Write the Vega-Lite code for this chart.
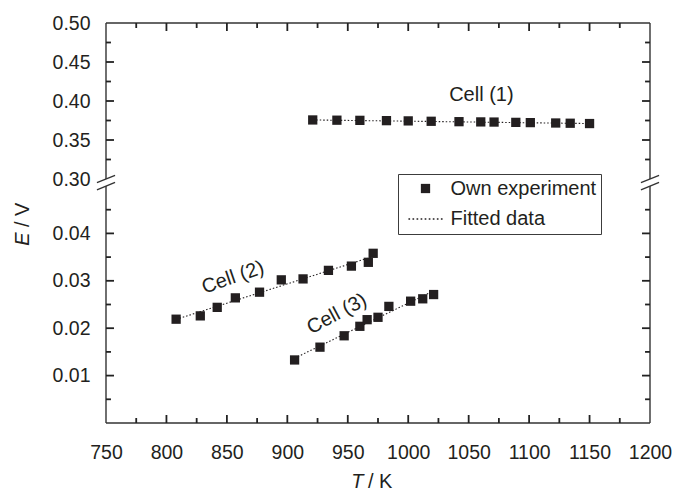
{
  "$schema": "https://vega.github.io/schema/vega-lite/v6.json",
  "width": 544,
  "height": 400,
  "autosize": "none",
  "padding": {"left": 106, "top": 23, "right": 23, "bottom": 69},
  "background": "white",
  "config": {"view": {"stroke": null}, "font": "Liberation Sans"},
  "datasets": {
    "points": [
      {"cell": "1", "T": 921, "E": 0.3757, "kind": "Own experiment"},
      {"cell": "1", "T": 941, "E": 0.3754, "kind": "Own experiment"},
      {"cell": "1", "T": 960, "E": 0.3752, "kind": "Own experiment"},
      {"cell": "1", "T": 982, "E": 0.3748, "kind": "Own experiment"},
      {"cell": "1", "T": 1000, "E": 0.3745, "kind": "Own experiment"},
      {"cell": "1", "T": 1019, "E": 0.3740, "kind": "Own experiment"},
      {"cell": "1", "T": 1042, "E": 0.3735, "kind": "Own experiment"},
      {"cell": "1", "T": 1060, "E": 0.3732, "kind": "Own experiment"},
      {"cell": "1", "T": 1071, "E": 0.3730, "kind": "Own experiment"},
      {"cell": "1", "T": 1089, "E": 0.3726, "kind": "Own experiment"},
      {"cell": "1", "T": 1101, "E": 0.3723, "kind": "Own experiment"},
      {"cell": "1", "T": 1122, "E": 0.3718, "kind": "Own experiment"},
      {"cell": "1", "T": 1134, "E": 0.3715, "kind": "Own experiment"},
      {"cell": "1", "T": 1150, "E": 0.3711, "kind": "Own experiment"},
      {"cell": "2", "T": 808, "E": 0.0219, "kind": "Own experiment"},
      {"cell": "2", "T": 828, "E": 0.0226, "kind": "Own experiment"},
      {"cell": "2", "T": 842, "E": 0.0244, "kind": "Own experiment"},
      {"cell": "2", "T": 857, "E": 0.0264, "kind": "Own experiment"},
      {"cell": "2", "T": 877, "E": 0.0276, "kind": "Own experiment"},
      {"cell": "2", "T": 895, "E": 0.0302, "kind": "Own experiment"},
      {"cell": "2", "T": 913, "E": 0.0304, "kind": "Own experiment"},
      {"cell": "2", "T": 934, "E": 0.0322, "kind": "Own experiment"},
      {"cell": "2", "T": 953, "E": 0.0331, "kind": "Own experiment"},
      {"cell": "2", "T": 967, "E": 0.0339, "kind": "Own experiment"},
      {"cell": "2", "T": 971, "E": 0.0358, "kind": "Own experiment"},
      {"cell": "3", "T": 906, "E": 0.0133, "kind": "Own experiment"},
      {"cell": "3", "T": 927, "E": 0.0160, "kind": "Own experiment"},
      {"cell": "3", "T": 947, "E": 0.0184, "kind": "Own experiment"},
      {"cell": "3", "T": 960, "E": 0.0204, "kind": "Own experiment"},
      {"cell": "3", "T": 966, "E": 0.0218, "kind": "Own experiment"},
      {"cell": "3", "T": 975, "E": 0.0223, "kind": "Own experiment"},
      {"cell": "3", "T": 984, "E": 0.0246, "kind": "Own experiment"},
      {"cell": "3", "T": 1002, "E": 0.0257, "kind": "Own experiment"},
      {"cell": "3", "T": 1012, "E": 0.0262, "kind": "Own experiment"},
      {"cell": "3", "T": 1021, "E": 0.0271, "kind": "Own experiment"}
    ],
    "fits": [
      {"cell": "1", "T": 921, "E": 0.3757},
      {"cell": "1", "T": 1150, "E": 0.3711},
      {"cell": "2", "T": 808, "E": 0.02186},
      {"cell": "2", "T": 971, "E": 0.03514},
      {"cell": "3", "T": 906, "E": 0.01367},
      {"cell": "3", "T": 1021, "E": 0.02788}
    ],
    "labels": [
      {"cell": "1", "label": "Cell (1)", "T": 1060.5, "E": 0.4077},
      {"cell": "2", "label": "Cell (2)", "T": 855, "E": 0.0307},
      {"cell": "3", "label": "Cell (3)", "T": 941, "E": 0.0230}
    ],
    "frame": [
      {"T": 750, "E": 0.30, "T2": 750, "E2": 0.50},
      {"T": 750, "E": 0, "T2": 750, "E2": 0.05},
      {"T": 1200, "E": 0.30, "T2": 1200, "E2": 0.50},
      {"T": 1200, "E": 0, "T2": 1200, "E2": 0.05},
      {"T": 750, "E": 0.50, "T2": 1200, "E2": 0.50},
      {"T": 750, "E": 0, "T2": 1200, "E2": 0},
      {"T": 742.5, "E": 0.1714, "T2": 757.5, "E2": 0.3046},
      {"T": 742.5, "E": 0.0492, "T2": 757.5, "E2": 0.1786},
      {"T": 1192.5, "E": 0.1714, "T2": 1207.5, "E2": 0.3046},
      {"T": 1192.5, "E": 0.0492, "T2": 1207.5, "E2": 0.1786}
    ],
    "ticks": [
      {"T": 800, "E": 0, "T2": 800, "E2": 0.00169},
      {"T": 850, "E": 0, "T2": 850, "E2": 0.00169},
      {"T": 900, "E": 0, "T2": 900, "E2": 0.00169},
      {"T": 950, "E": 0, "T2": 950, "E2": 0.00169},
      {"T": 1000, "E": 0, "T2": 1000, "E2": 0.00169},
      {"T": 1050, "E": 0, "T2": 1050, "E2": 0.00169},
      {"T": 1100, "E": 0, "T2": 1100, "E2": 0.00169},
      {"T": 1150, "E": 0, "T2": 1150, "E2": 0.00169},
      {"T": 775, "E": 0, "T2": 775, "E2": 0.00105},
      {"T": 825, "E": 0, "T2": 825, "E2": 0.00105},
      {"T": 875, "E": 0, "T2": 875, "E2": 0.00105},
      {"T": 925, "E": 0, "T2": 925, "E2": 0.00105},
      {"T": 975, "E": 0, "T2": 975, "E2": 0.00105},
      {"T": 1025, "E": 0, "T2": 1025, "E2": 0.00105},
      {"T": 1075, "E": 0, "T2": 1075, "E2": 0.00105},
      {"T": 1125, "E": 0, "T2": 1125, "E2": 0.00105},
      {"T": 1175, "E": 0, "T2": 1175, "E2": 0.00105},
      {"T": 800, "E": 0.5, "T2": 800, "E2": 0.48974},
      {"T": 850, "E": 0.5, "T2": 850, "E2": 0.48974},
      {"T": 900, "E": 0.5, "T2": 900, "E2": 0.48974},
      {"T": 950, "E": 0.5, "T2": 950, "E2": 0.48974},
      {"T": 1000, "E": 0.5, "T2": 1000, "E2": 0.48974},
      {"T": 1050, "E": 0.5, "T2": 1050, "E2": 0.48974},
      {"T": 1100, "E": 0.5, "T2": 1100, "E2": 0.48974},
      {"T": 1150, "E": 0.5, "T2": 1150, "E2": 0.48974},
      {"T": 775, "E": 0.5, "T2": 775, "E2": 0.49359},
      {"T": 825, "E": 0.5, "T2": 825, "E2": 0.49359},
      {"T": 875, "E": 0.5, "T2": 875, "E2": 0.49359},
      {"T": 925, "E": 0.5, "T2": 925, "E2": 0.49359},
      {"T": 975, "E": 0.5, "T2": 975, "E2": 0.49359},
      {"T": 1025, "E": 0.5, "T2": 1025, "E2": 0.49359},
      {"T": 1075, "E": 0.5, "T2": 1075, "E2": 0.49359},
      {"T": 1125, "E": 0.5, "T2": 1125, "E2": 0.49359},
      {"T": 1175, "E": 0.5, "T2": 1175, "E2": 0.49359},
      {"T": 750, "E": 0.01, "T2": 756.6, "E2": 0.01},
      {"T": 750, "E": 0.02, "T2": 756.6, "E2": 0.02},
      {"T": 750, "E": 0.03, "T2": 756.6, "E2": 0.03},
      {"T": 750, "E": 0.04, "T2": 756.6, "E2": 0.04},
      {"T": 750, "E": 0.35, "T2": 756.6, "E2": 0.35},
      {"T": 750, "E": 0.40, "T2": 756.6, "E2": 0.40},
      {"T": 750, "E": 0.45, "T2": 756.6, "E2": 0.45},
      {"T": 750, "E": 0.005, "T2": 754.1, "E2": 0.005},
      {"T": 750, "E": 0.015, "T2": 754.1, "E2": 0.015},
      {"T": 750, "E": 0.025, "T2": 754.1, "E2": 0.025},
      {"T": 750, "E": 0.035, "T2": 754.1, "E2": 0.035},
      {"T": 750, "E": 0.045, "T2": 754.1, "E2": 0.045},
      {"T": 750, "E": 0.325, "T2": 754.1, "E2": 0.325},
      {"T": 750, "E": 0.375, "T2": 754.1, "E2": 0.375},
      {"T": 750, "E": 0.425, "T2": 754.1, "E2": 0.425},
      {"T": 750, "E": 0.475, "T2": 754.1, "E2": 0.475},
      {"T": 1200, "E": 0.01, "T2": 1193.4, "E2": 0.01},
      {"T": 1200, "E": 0.02, "T2": 1193.4, "E2": 0.02},
      {"T": 1200, "E": 0.03, "T2": 1193.4, "E2": 0.03},
      {"T": 1200, "E": 0.04, "T2": 1193.4, "E2": 0.04},
      {"T": 1200, "E": 0.35, "T2": 1193.4, "E2": 0.35},
      {"T": 1200, "E": 0.40, "T2": 1193.4, "E2": 0.40},
      {"T": 1200, "E": 0.45, "T2": 1193.4, "E2": 0.45},
      {"T": 1200, "E": 0.005, "T2": 1195.9, "E2": 0.005},
      {"T": 1200, "E": 0.015, "T2": 1195.9, "E2": 0.015},
      {"T": 1200, "E": 0.025, "T2": 1195.9, "E2": 0.025},
      {"T": 1200, "E": 0.035, "T2": 1195.9, "E2": 0.035},
      {"T": 1200, "E": 0.045, "T2": 1195.9, "E2": 0.045},
      {"T": 1200, "E": 0.325, "T2": 1195.9, "E2": 0.325},
      {"T": 1200, "E": 0.375, "T2": 1195.9, "E2": 0.375},
      {"T": 1200, "E": 0.425, "T2": 1195.9, "E2": 0.425},
      {"T": 1200, "E": 0.475, "T2": 1195.9, "E2": 0.475}
    ]
  },
  "resolve": {"axis": {"x": "independent", "y": "independent"}},
  "layer": [
    {
      "data": {"name": "fits"},
      "mark": {"type": "line", "color": "#231f20", "strokeWidth": 1.1, "strokeDash": [1.5, 2]},
      "encoding": {
        "x": {"field": "T", "type": "quantitative", "scale": {"domain": [750, 1200], "nice": false, "zero": false}, "axis": null},
        "y": {"field": "E", "type": "quantitative", "scale": {"domain": [0, 0.05, 0.3, 0.5], "range": [400, 163, 156, 0], "nice": false, "zero": false}, "axis": null},
        "detail": {"field": "cell"}
      }
    },
    {
      "data": {"name": "points"},
      "mark": {"type": "point", "filled": true, "opacity": 1, "size": 86, "color": "#231f20"},
      "encoding": {
        "x": {"field": "T", "type": "quantitative", "scale": {"domain": [750, 1200], "nice": false, "zero": false},
          "axis": {"orient": "bottom", "values": [750, 800, 850, 900, 950, 1000, 1050, 1100, 1150, 1200],
            "format": "d",
            "labelFont": "Liberation Sans", "labelFontSize": 19.5, "labelColor": "#231f20", "labelBaseline": "alphabetic", "labelPadding": 35,
            "labelFlush": false, "labelOverlap": false,
            "domain": false, "grid": false, "ticks": false, "tickSize": 0,
            "title": "T", "titleFont": "Liberation Sans", "titleFontSize": 20, "titleFontStyle": "italic", "titleFontWeight": "normal", "titleColor": "#231f20",
            "titleX": 257, "titleY": 64.5, "titleAlign": "right", "titleBaseline": "alphabetic", "titleAnchor": null}},
        "y": {"field": "E", "type": "quantitative", "scale": {"domain": [0, 0.05, 0.3, 0.5], "range": [400, 163, 156, 0], "nice": false, "zero": false},
          "axis": {"orient": "left", "values": [0.01, 0.02, 0.03, 0.04, 0.3, 0.35, 0.4, 0.45, 0.5],
            "format": ".2f",
            "labelFont": "Liberation Sans", "labelFontSize": 19.5, "labelColor": "#231f20", "labelPadding": 16, "labelFlush": false, "labelOverlap": false,
            "domain": false, "grid": false, "ticks": false, "tickSize": 0,
            "title": "E", "titleFont": "Liberation Sans", "titleFontSize": 20, "titleFontStyle": "italic", "titleFontWeight": "normal", "titleColor": "#231f20",
            "titleAngle": -90, "titleX": -78, "titleY": 209, "titleAlign": "right", "titleBaseline": "alphabetic", "titleAnchor": null}},
        "shape": {"field": "kind", "type": "nominal",
          "scale": {"domain": ["Own experiment", "Fitted data"],
            "range": ["square", "M-3.68,-0.18h0.36v0.36h-0.36z M-2.805,-0.18h0.36v0.36h-0.36z M-1.93,-0.18h0.36v0.36h-0.36z M-1.055,-0.18h0.36v0.36h-0.36z M-0.18,-0.18h0.36v0.36h-0.36z M0.695,-0.18h0.36v0.36h-0.36z M1.57,-0.18h0.36v0.36h-0.36z M2.445,-0.18h0.36v0.36h-0.36z M3.32,-0.18h0.36v0.36h-0.36z"]},
          "legend": {"title": null, "orient": "none", "legendX": 292, "legendY": 151,
            "strokeColor": "#3c3c3c", "fillColor": "white", "padding": 4.5,
            "labelFont": "Liberation Sans", "labelFontSize": 20, "labelColor": "#231f20",
            "symbolSize": 86, "symbolOffset": 13, "labelOffset": 15, "rowPadding": 10.5,
            "symbolFillColor": "#231f20", "symbolStrokeWidth": 0}}
      }
    },
    {
      "data": {"name": "labels"},
      "transform": [{"filter": "datum.cell === '1'"}],
      "mark": {"type": "text", "font": "Liberation Sans", "fontSize": 20, "color": "#231f20", "align": "center", "baseline": "middle"},
      "encoding": {
        "x": {"field": "T", "type": "quantitative", "scale": {"domain": [750, 1200], "nice": false, "zero": false},
          "axis": {"orient": "bottom", "domain": false, "labels": false, "ticks": false, "grid": false,
            "title": "/ K", "titleFont": "Liberation Sans", "titleFontSize": 20, "titleFontWeight": "normal", "titleColor": "#231f20",
            "titleX": 261.5, "titleY": 64.5, "titleAlign": "left", "titleBaseline": "alphabetic", "titleAnchor": null}},
        "y": {"field": "E", "type": "quantitative", "scale": {"domain": [0, 0.05, 0.3, 0.5], "range": [400, 163, 156, 0], "nice": false, "zero": false},
          "axis": {"orient": "left", "domain": false, "labels": false, "ticks": false, "grid": false,
            "title": "/ V", "titleFont": "Liberation Sans", "titleFontSize": 20, "titleFontWeight": "normal", "titleColor": "#231f20",
            "titleAngle": -90, "titleX": -78, "titleY": 203.6, "titleAlign": "left", "titleBaseline": "alphabetic", "titleAnchor": null}},
        "text": {"field": "label"}
      }
    },
    {
      "data": {"name": "labels"},
      "transform": [{"filter": "datum.cell === '2'"}],
      "mark": {"type": "text", "font": "Liberation Sans", "fontSize": 20, "color": "#231f20", "align": "center", "baseline": "middle", "angle": -19},
      "encoding": {
        "x": {"field": "T", "type": "quantitative", "scale": {"domain": [750, 1200], "nice": false, "zero": false}, "axis": null},
        "y": {"field": "E", "type": "quantitative", "scale": {"domain": [0, 0.05, 0.3, 0.5], "range": [400, 163, 156, 0], "nice": false, "zero": false}, "axis": null},
        "text": {"field": "label"}
      }
    },
    {
      "data": {"name": "labels"},
      "transform": [{"filter": "datum.cell === '3'"}],
      "mark": {"type": "text", "font": "Liberation Sans", "fontSize": 20, "color": "#231f20", "align": "center", "baseline": "middle", "angle": -28},
      "encoding": {
        "x": {"field": "T", "type": "quantitative", "scale": {"domain": [750, 1200], "nice": false, "zero": false}, "axis": null},
        "y": {"field": "E", "type": "quantitative", "scale": {"domain": [0, 0.05, 0.3, 0.5], "range": [400, 163, 156, 0], "nice": false, "zero": false}, "axis": null},
        "text": {"field": "label"}
      }
    },
    {
      "data": {"name": "frame"},
      "mark": {"type": "rule", "color": "#333333", "strokeWidth": 1.4},
      "encoding": {
        "x": {"field": "T", "type": "quantitative", "scale": {"domain": [750, 1200], "nice": false, "zero": false}, "axis": null},
        "y": {"field": "E", "type": "quantitative", "scale": {"domain": [0, 0.05, 0.3, 0.5], "range": [400, 163, 156, 0], "nice": false, "zero": false}, "axis": null},
        "x2": {"field": "T2"},
        "y2": {"field": "E2"}
      }
    },
    {
      "data": {"name": "ticks"},
      "mark": {"type": "rule", "color": "#222222", "strokeWidth": 1.8},
      "encoding": {
        "x": {"field": "T", "type": "quantitative", "scale": {"domain": [750, 1200], "nice": false, "zero": false}, "axis": null},
        "y": {"field": "E", "type": "quantitative", "scale": {"domain": [0, 0.05, 0.3, 0.5], "range": [400, 163, 156, 0], "nice": false, "zero": false}, "axis": null},
        "x2": {"field": "T2"},
        "y2": {"field": "E2"}
      }
    }
  ]
}
